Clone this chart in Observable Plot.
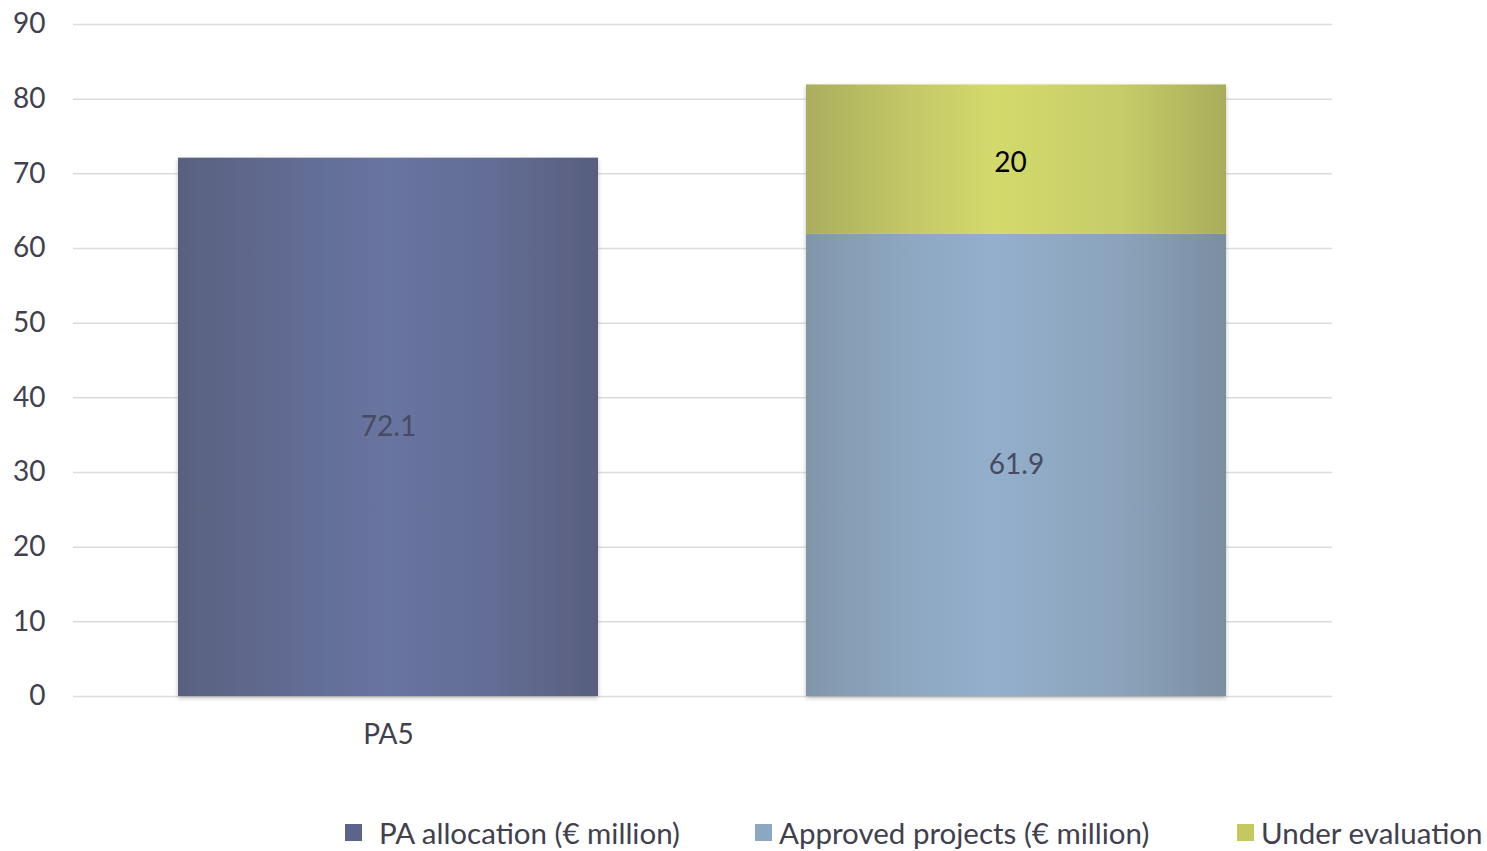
<!DOCTYPE html>
<html>
<head>
<meta charset="utf-8">
<script src="https://cdn.jsdelivr.net/npm/d3@7"></script>
<script src="https://cdn.jsdelivr.net/npm/@observablehq/plot@0.6"></script>
<style>
  html, body { margin: 0; padding: 0; background: #fff; }
  #wrap { position: relative; width: 1487px; height: 851px; font-family: Lato, "Open Sans", sans-serif; }
  #legend { position: absolute; top: 815px; left: 0; width: 1487px; height: 44px; }
  .item { position: absolute; display: flex; align-items: center; font-size: 29.5px; color: #40404e; white-space: nowrap; }
  .sw { width: 17px; height: 17px; display: inline-block; }
</style>
</head>
<body>
<div id="wrap">
  <div id="chart"></div>
  <div id="legend"></div>
</div>
<script>
const categories = ["PA5", ""];
const seriesNames = ["PA allocation (€ million)", "Approved projects (€ million)", "Under evaluation"];
const paAllocation = [72.1, null];
const approvedProjects = [null, 61.9];
const underEvaluation = [null, 20];
const yTicks = [0, 10, 20, 30, 40, 50, 60, 70, 80, 90];

const seriesValues = [paAllocation, approvedProjects, underEvaluation];
const table = [];
categories.forEach((c, i) => {
  seriesNames.forEach((s, j) => {
    const v = seriesValues[j][i];
    if (v != null) table.push({cat: c, series: s, value: v});
  });
});

const gradIds = ["g0", "g1", "g2"];
const gradStops = [
  [["0%", "#59617f"], ["25%", "#616b92"], ["50%", "#6874a0"], ["75%", "#636d95"], ["100%", "#585f7e"]],
  [["0%", "#8196aa"], ["25%", "#8ea8c2"], ["45%", "#94afcc"], ["75%", "#8ba3bb"], ["100%", "#7b8ea2"]],
  [["0%", "#aaae5e"], ["25%", "#c3c867"], ["45%", "#d3da6c"], ["75%", "#c6cc68"], ["100%", "#a9ad5b"]]
];
const swatchColors = ["#5b648a", "#8ba7c2", "#c3c95f"];

const plot = Plot.plot({
  width: 1487,
  height: 770,
  marginTop: 24,
  marginBottom: 74,
  marginLeft: 73,
  marginRight: 155,
  style: {fontFamily: "Lato, 'Open Sans', sans-serif", fontSize: "28px", color: "#40404e", background: "transparent"},
  x: {domain: categories, paddingInner: 0.331, paddingOuter: 0.167, label: null, tickSize: 0, tickPadding: 28},
  y: {domain: [0, 90], ticks: yTicks, label: null, tickSize: 0, tickPadding: 28},
  color: {domain: seriesNames, range: gradIds.map(id => `url(#${id})`)},
  marks: [
    Plot.ruleY(yTicks, {stroke: "#dcdce0", strokeWidth: 1.5}),
    Plot.barY(table, {x: "cat", y: "value", fill: "series", z: "series", order: seriesNames}),
    Plot.text(table, Plot.stackY({x: "cat", y: "value", z: "series", order: seriesNames,
      text: d => d.series === seriesNames[2] ? null : String(d.value),
      fill: "#464b62", fontSize: 28})),
    Plot.text(table, Plot.stackY({x: "cat", y: "value", z: "series", order: seriesNames,
      text: d => d.series === seriesNames[2] ? String(d.value) : null,
      fill: "#000", fontSize: 28, dx: -6, dy: 3}))
  ]
});

// gradients & shadow definitions
const svg = d3.select(plot);
const defs = svg.insert("defs", ":first-child");
gradIds.forEach((id, i) => {
  const g = defs.append("linearGradient").attr("id", id).attr("x1", "0%").attr("x2", "100%").attr("y1", "0%").attr("y2", "0%");
  gradStops[i].forEach(([o, c]) => g.append("stop").attr("offset", o).attr("stop-color", c));
});
const f = defs.append("filter").attr("id", "shadow").attr("x", "-5%").attr("y", "-5%").attr("width", "110%").attr("height", "110%");
f.append("feDropShadow").attr("dx", 0).attr("dy", 2).attr("stdDeviation", 2).attr("flood-color", "#000").attr("flood-opacity", 0.25);
svg.selectAll("g[aria-label='bar']").attr("filter", "url(#shadow)");

document.getElementById("chart").appendChild(plot);

const legendLeft = [345, 755, 1237];
const legend = d3.select("#legend");
seriesNames.forEach((s, i) => {
  const it = legend.append("div").attr("class", "item").style("left", legendLeft[i] + "px");
  it.append("span").attr("class", "sw").style("background", swatchColors[i]).style("margin-right", i === 0 ? "17px" : "7px");
  it.append("span").text(s);
});
</script>
</body>
</html>
